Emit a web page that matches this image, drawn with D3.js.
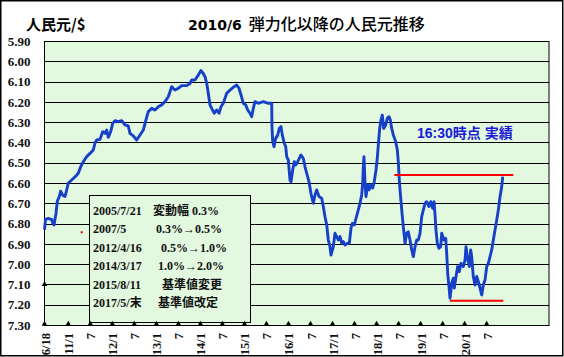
<!DOCTYPE html>
<html><head><meta charset="utf-8">
<script src="https://cdn.jsdelivr.net/npm/d3@7"></script>
<style>body{margin:0;background:#fff}svg{display:block}</style>
</head><body>
<svg id="c" width="564" height="357"></svg>
<script>
// ---- data ----
const yTicks = [5.9,6.0,6.1,6.2,6.3,6.4,6.5,6.6,6.7,6.8,6.9,7.0,7.1,7.2,7.3];
const xTickPos = [2010.46,2011,2011.5,2012,2012.5,2013,2013.5,2014,2014.5,2015,2015.5,2016,2016.5,2017,2017.5,2018,2018.5,2019,2019.5,2020,2020.5];
const xTickLabels = ["6/18","11/1","7","12/1","7","13/1","7","14/1","7","15/1","7","16/1","7","17/1","7","18/1","7","19/1","7","20/1","7"];
const xDomain = [2010.46, 2021.915];
const yDomain = [5.9, 7.3];
// decimal-year dates and CNY per USD
const dates = [2010.46,2010.482,2010.546,2010.623,2010.653,2010.675,2010.721,2010.750,2010.796,2010.827,2010.873,2010.925,2010.964,2011.000,2011.077,2011.152,2011.227,2011.282,2011.341,2011.418,2011.493,2011.568,2011.606,2011.645,2011.720,2011.781,2011.833,2011.872,2011.908,2011.963,2012.008,2012.060,2012.135,2012.213,2012.287,2012.362,2012.401,2012.476,2012.553,2012.628,2012.703,2012.764,2012.817,2012.894,2012.969,2013.044,2013.121,2013.196,2013.271,2013.309,2013.348,2013.423,2013.498,2013.575,2013.689,2013.763,2013.802,2013.877,2013.952,2014.013,2014.065,2014.104,2014.143,2014.179,2014.218,2014.256,2014.315,2014.370,2014.422,2014.467,2014.520,2014.597,2014.672,2014.747,2014.824,2014.876,2014.922,2014.974,2015.028,2015.074,2015.126,2015.164,2015.201,2015.239,2015.314,2015.428,2015.541,2015.619,2015.625,2015.641,2015.671,2015.709,2015.755,2015.791,2015.830,2015.859,2015.905,2015.937,2015.959,2015.996,2016.034,2016.057,2016.095,2016.132,2016.164,2016.209,2016.284,2016.336,2016.375,2016.436,2016.466,2016.511,2016.563,2016.602,2016.640,2016.693,2016.754,2016.790,2016.829,2016.868,2016.904,2016.942,2016.965,2017.017,2017.056,2017.095,2017.131,2017.170,2017.208,2017.244,2017.283,2017.344,2017.381,2017.419,2017.449,2017.494,2017.533,2017.585,2017.624,2017.662,2017.685,2017.699,2017.714,2017.737,2017.760,2017.798,2017.828,2017.873,2017.912,2017.948,2017.987,2018.016,2018.039,2018.071,2018.101,2018.130,2018.162,2018.207,2018.244,2018.282,2018.312,2018.344,2018.380,2018.434,2018.471,2018.493,2018.516,2018.539,2018.571,2018.607,2018.646,2018.684,2018.720,2018.759,2018.798,2018.834,2018.873,2018.911,2018.948,2018.986,2019.025,2019.061,2019.100,2019.138,2019.190,2019.229,2019.274,2019.304,2019.327,2019.349,2019.379,2019.417,2019.456,2019.479,2019.531,2019.570,2019.592,2019.615,2019.644,2019.667,2019.706,2019.742,2019.765,2019.804,2019.842,2019.878,2019.917,2019.969,2020.008,2020.031,2020.060,2020.106,2020.137,2020.160,2020.196,2020.235,2020.274,2020.310,2020.349,2020.387,2020.423,2020.462,2020.501,2020.537,2020.576,2020.614,2020.651,2020.689,2020.728,2020.764,2020.803,2020.841,2020.864];
const rates = [6.83,6.78,6.774,6.78,6.80,6.807,6.75,6.69,6.667,6.64,6.66,6.667,6.634,6.60,6.585,6.57,6.552,6.52,6.495,6.47,6.454,6.437,6.404,6.388,6.385,6.347,6.355,6.339,6.375,6.347,6.306,6.293,6.298,6.293,6.314,6.319,6.355,6.368,6.388,6.363,6.339,6.289,6.248,6.232,6.24,6.224,6.215,6.199,6.175,6.15,6.125,6.142,6.133,6.12,6.12,6.11,6.092,6.092,6.068,6.046,6.06,6.076,6.108,6.158,6.215,6.232,6.256,6.24,6.256,6.224,6.207,6.158,6.142,6.128,6.117,6.133,6.166,6.207,6.215,6.24,6.256,6.273,6.232,6.199,6.207,6.199,6.207,6.207,6.322,6.396,6.421,6.38,6.364,6.331,6.322,6.364,6.404,6.421,6.47,6.486,6.585,6.594,6.536,6.495,6.511,6.495,6.462,6.478,6.52,6.57,6.594,6.652,6.70,6.659,6.634,6.667,6.675,6.716,6.766,6.807,6.881,6.914,6.955,6.914,6.848,6.864,6.881,6.864,6.897,6.889,6.906,6.897,6.897,6.823,6.799,6.807,6.774,6.733,6.70,6.659,6.60,6.52,6.47,6.60,6.667,6.608,6.634,6.608,6.625,6.593,6.536,6.478,6.413,6.331,6.289,6.265,6.331,6.314,6.281,6.273,6.289,6.331,6.363,6.396,6.437,6.495,6.585,6.651,6.733,6.815,6.897,6.848,6.84,6.881,6.93,6.963,6.914,6.881,6.881,6.848,6.766,6.733,6.70,6.692,6.716,6.692,6.725,6.692,6.757,6.832,6.897,6.922,6.914,6.848,6.881,6.873,6.947,7.045,7.111,7.168,7.094,7.069,7.118,7.061,7.012,7.037,6.996,7.012,6.98,6.914,6.963,7.012,6.93,6.963,7.061,7.103,7.061,7.086,7.118,7.152,7.103,7.078,7.012,6.996,6.963,6.93,6.881,6.832,6.783,6.733,6.668,6.619,6.569];
// reference lines (red)
const refHigh = {from: 2018.402, to: 2021.104, value: 6.56};
const refLow  = {from: 2019.667, to: 2020.878, value: 7.18};
const strayMark = [2011.304, 6.843];
const axisMarker = 7.1;
const legendDates = ["2005/7/21","2007/5","2012/4/16","2014/3/17","2015/8/11","2017/5/末"];
const legendNotes = ["変動幅 0.3%","0.3%→0.5%","0.5%→1.0%","1.0%→2.0%","基準値変更","基準値改定"];
const titleA = "2010/6", titleB = "弾力化以降の人民元推移";
const unitLabel = "人民元/$";
const noteLabel = "16:30時点 実績";

// ---- drawing ----
const svg = d3.select("#c");
const x = d3.scaleLinear().domain(xDomain).range([44.5, 549]);
const y = d3.scaleLinear().domain(yDomain).range([41, 325]);
const bg = "#e2f8df";
const serif = "'Liberation Serif','Noto Sans CJK JP',serif";

svg.append("rect").attr("x",0.75).attr("y",0.75).attr("width",562).attr("height",355)
  .attr("fill","#fff").attr("stroke","#000").attr("stroke-width",1.5);

svg.append("rect").attr("x",x(xDomain[0])).attr("y",y(yDomain[0]))
  .attr("width",x(xDomain[1])-x(xDomain[0])).attr("height",y(yDomain[1])-y(yDomain[0]))
  .attr("fill",bg);

svg.append("g").selectAll("line").data(yTicks).join("line")
  .attr("x1",x(xDomain[0])).attr("x2",x(xDomain[1]))
  .attr("y1",d=>Math.round(y(d))+0.5).attr("y2",d=>Math.round(y(d))+0.5)
  .attr("stroke","#000").attr("stroke-width",1);

svg.append("rect").attr("x",x(xDomain[0])).attr("y",y(yDomain[0])+0.5)
  .attr("width",x(xDomain[1])-x(xDomain[0])).attr("height",y(yDomain[1])-y(yDomain[0]))
  .attr("fill","none").attr("stroke","#000").attr("stroke-width",1);

// legend box (under the series)
const lg = svg.append("g");
lg.append("rect").attr("x",89.5).attr("y",195.5).attr("width",161).attr("height",127)
  .attr("fill",bg).attr("stroke","#000").attr("stroke-width",1);
const noteX = [153,156,161,158,162,158];
legendDates.forEach((d,i)=>{
  const yy = 214.5 + i*18.5;
  lg.append("text").attr("x",93).attr("y",yy).text(d)
    .attr("font-family",serif).attr("font-weight","bold").attr("font-size",12).attr("fill","#111");
  lg.append("text").attr("x",noteX[i]).attr("y",yy).text(legendNotes[i])
    .attr("font-family",serif).attr("font-weight","bold").attr("font-size",12).attr("fill","#111");
});

// series
const line = d3.line().x((d,i)=>x(dates[i])).y(d=>y(d));
svg.append("path").datum(rates).attr("d",line).attr("fill","none")
  .attr("stroke","#1640c8").attr("stroke-width",2.9).attr("stroke-linejoin","round");

// red reference lines
[refHigh, refLow].forEach(r=>{
  svg.append("line").attr("x1",x(r.from)).attr("x2",x(r.to))
    .attr("y1",y(r.value)).attr("y2",y(r.value))
    .attr("stroke","#ff0000").attr("stroke-width",2);
});
svg.append("rect").attr("x",x(strayMark[0])-1).attr("y",y(strayMark[1])-1)
  .attr("width",2).attr("height",2).attr("fill","#e00000");

// axes
const yAxis = d3.axisLeft(y).tickValues(yTicks).tickFormat(d3.format(".2f")).tickSize(0).tickPadding(14);
const ya = svg.append("g").attr("transform",`translate(${x(xDomain[0])},0)`).call(yAxis);
ya.select(".domain").remove();
ya.selectAll("text").attr("font-family",serif).attr("font-weight","bold").attr("font-size",13).attr("fill","#111");

const xAxis = d3.axisBottom(x).tickValues(xTickPos).tickFormat((d,i)=>xTickLabels[i]).tickSize(0);
const xa = svg.append("g").attr("transform",`translate(0,${y(yDomain[1])})`).call(xAxis);
xa.select(".domain").remove();
xa.selectAll("text").attr("font-family",serif).attr("font-weight","bold").attr("font-size",12.5).attr("fill","#111")
  .attr("text-anchor","end").attr("dy",null).attr("y",null)
  .attr("transform","translate(4.5,8) rotate(-90)");

const tri = d3.symbol(d3.symbolTriangle, 14);
svg.append("g").selectAll("path").data(xTickPos).join("path")
  .attr("d",tri).attr("fill","#000")
  .attr("transform",d=>`translate(${x(d)},${y(yDomain[1])-1})`);
svg.append("path").attr("d",tri).attr("fill","#000")
  .attr("transform",`translate(${x(xDomain[0])},${y(axisMarker)})`);

// titles
svg.append("text").attr("x",26).attr("y",30).text(unitLabel)
  .attr("font-family","'Noto Sans CJK JP',sans-serif").attr("font-weight","bold").attr("font-size",15).attr("fill","#000");
const t = svg.append("text").attr("x",188).attr("y",30);
t.append("tspan").text(titleA).attr("font-family","'DejaVu Sans','Liberation Sans',sans-serif").attr("font-weight","bold").attr("font-size",14);
t.append("tspan").attr("dx",7).text(titleB).attr("font-family","'Noto Sans CJK JP',sans-serif").attr("font-weight",500).attr("font-size",16);
svg.append("text").attr("x",417).attr("y",138).text(noteLabel)
  .attr("font-family","'Liberation Sans','Noto Sans CJK JP',sans-serif").attr("font-weight","bold").attr("font-size",14).attr("fill","#1a1ad8");
</script>
</body></html>
